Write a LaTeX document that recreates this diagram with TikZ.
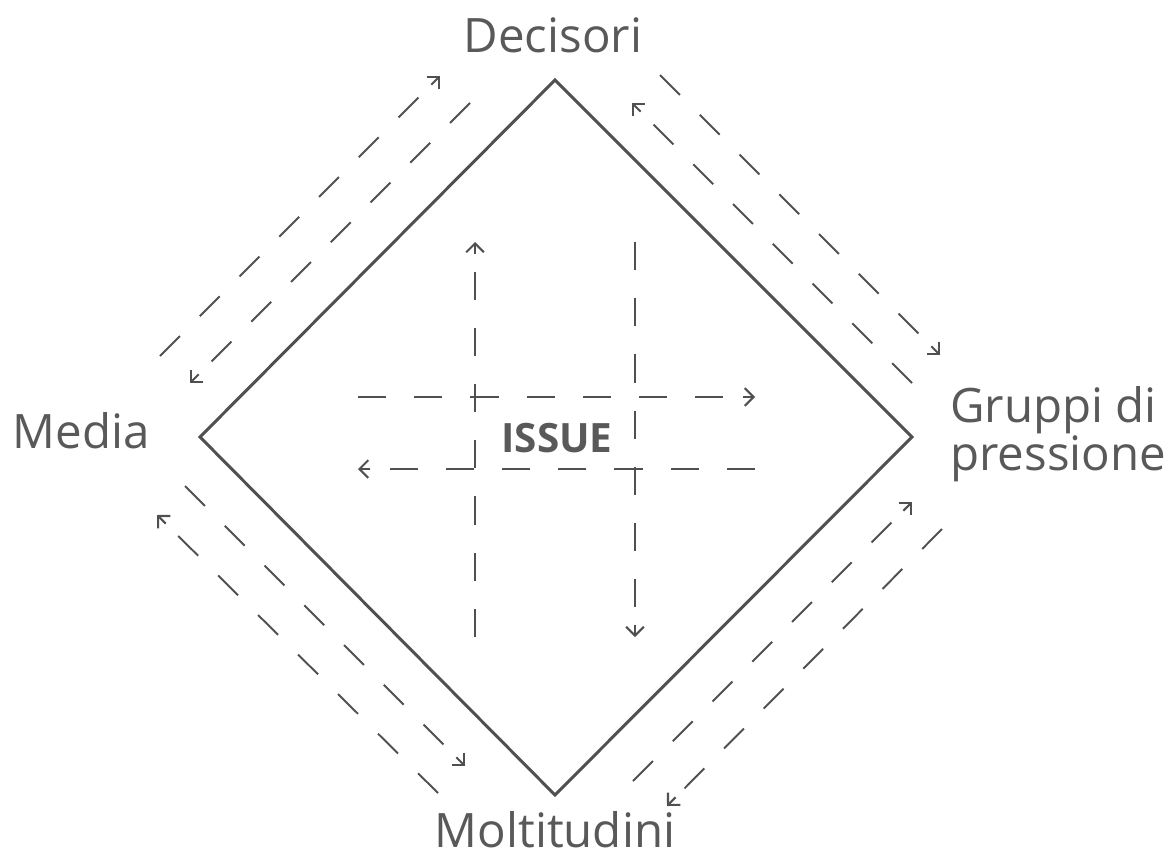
\documentclass[tikz,border=0pt]{standalone}
\usepackage{fontspec}
\setmainfont{Open Sans}
\usetikzlibrary{arrows.meta,calc}
\definecolor{linegray}{HTML}{505050}
\definecolor{textgray}{HTML}{595959}
\tikzset{
  flow/.style={draw=linegray, line width=1.1pt, dash pattern=on 16pt off 16pt},
  flowtip/.style={draw=linegray, line width=1.2pt, -{Straight Barb[length=5pt,width=10pt]}},
  actor/.style={text=textgray, inner sep=0pt, text depth=0pt, font=\fontsize{27}{25.6}\selectfont},
}

\begin{document}
\begin{tikzpicture}[x=0.02cm,y=-0.02cm]
      \useasboundingbox (0,0) rectangle (1174,859);
      % corners of the square
      \coordinate (top) at (555,80);
      \coordinate (right) at (912,437);
      \coordinate (bottom) at (555,795);
      \coordinate (left) at (200,437);
      \draw[linegray, line width=1.7pt] (top) -- (right) -- (bottom) -- (left) -- cycle;

      % actors
      \node[actor, anchor=base] (dec) at (553,52) {Decisori};
      \node[actor, anchor=base] (med) at (81,448) {Media};
      \node[actor, anchor=base] (mol) at (555,847) {Moltitudini};
      \node[actor, anchor=base west, align=left] (grp) at (950,470) {Gruppi di\\pressione};
      \node[text=textgray, inner sep=0pt, anchor=base, font=\fontsize{23}{27}\selectfont\bfseries]
        (iss) at (557,452) {ISSUE};

      % flows along the sides
      \coordinate (tl1) at (160,356);  \coordinate (tl2) at (440,76);
      \coordinate (tl3) at (470,103);  \coordinate (tl4) at (190,383);
      \coordinate (tr1) at (660,75);   \coordinate (tr2) at (940,355);
      \coordinate (tr3) at (912,383);  \coordinate (tr4) at (632,103);
      \coordinate (bl1) at (438,793);  \coordinate (bl2) at (157,515);
      \coordinate (bl3) at (185,486);  \coordinate (bl4) at (465,766);
      \coordinate (br1) at (633,781);  \coordinate (br2) at (912,502);
      \coordinate (br3) at (942,529);  \coordinate (br4) at (667,806);

      % flows across the issue
      \coordinate (up1) at (475,637);  \coordinate (up2) at (475,242);
      \coordinate (dn1) at (635,242);  \coordinate (dn2) at (635,637);
      \coordinate (rt1) at (358,397);  \coordinate (rt2) at (755,397);
      \coordinate (lt1) at (755,469);  \coordinate (lt2) at (358,469);

      \foreach \s/\e in {tl1/tl2,tl3/tl4,tr1/tr2,tr3/tr4,bl1/bl2,bl3/bl4,br1/br2,br3/br4,
                         up1/up2,dn1/dn2,rt1/rt2,lt1/lt2} {
        \draw[flow] (\s) -- ($(\e)!9pt!(\s)$);
        \draw[flowtip] ($(\e)!7pt!(\s)$) -- (\e);
      }
\end{tikzpicture}
\end{document}
